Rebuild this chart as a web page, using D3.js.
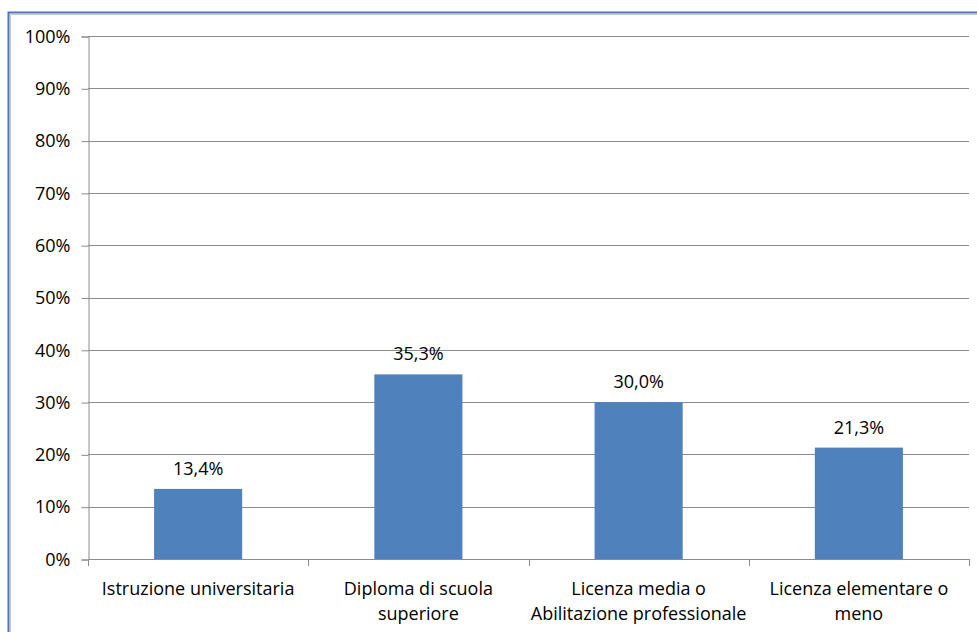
<!DOCTYPE html>
<html>
<head>
<meta charset="utf-8">
<script src="https://cdn.jsdelivr.net/npm/d3@7"></script>
<style>
  html, body { margin: 0; padding: 0; background: #fff; }
  svg text { font-family: "Open Sans", "Liberation Sans", sans-serif; fill: #000; }
</style>
</head>
<body>
<svg id="chart" width="977" height="632"></svg>
<script>
// Titolo di studio: quota percentuale per livello
const categories = [
  "Istruzione universitaria",
  "Diploma di scuola superiore",
  "Licenza media o Abilitazione professionale",
  "Licenza elementare o meno"
];
const categoryLines = [
  ["Istruzione universitaria"],
  ["Diploma di scuola", "superiore"],
  ["Licenza media o", "Abilitazione professionale"],
  ["Licenza elementare o", "meno"]
];
const values = [13.4, 35.3, 30.0, 21.3];
const yTicks = [0, 10, 20, 30, 40, 50, 60, 70, 80, 90, 100];

const svg = d3.select("#chart");
const W = 977, H = 632;
const margin = { left: 88, right: 8, top: 36, bottom: 73 };
const FS = 18;

// outer chart frame
svg.append("rect")
  .attr("x", 8.5).attr("y", 12.5)
  .attr("width", W + 10).attr("height", H + 10)
  .attr("fill", "#fff")
  .attr("stroke", "#4f74b8").attr("stroke-width", 2);
svg.append("path")
  .attr("d", `M10.5,${H + 10} V14.5 H${W + 10}`)
  .attr("fill", "none").attr("stroke", "#c8c8c8").attr("stroke-width", 1);

const x = d3.scaleBand()
  .domain(categories)
  .range([margin.left, W - margin.right])
  .paddingInner(0.6).paddingOuter(0.3);

const y = d3.scaleLinear()
  .domain([0, 100])
  .range([H - margin.bottom, margin.top]);

// gridlines
svg.append("g")
  .selectAll("line")
  .data(yTicks.filter(d => d > 0))
  .join("line")
  .attr("x1", margin.left).attr("x2", W - margin.right)
  .attr("y1", d => Math.round(y(d)) + 0.5).attr("y2", d => Math.round(y(d)) + 0.5)
  .attr("stroke", "#8c8c8c").attr("stroke-width", 1);

// y axis
const yAxis = svg.append("g")
  .attr("transform", `translate(${margin.left + 0.5},0.5)`)
  .call(d3.axisLeft(y).tickValues(yTicks).tickFormat(d => d + "%").tickSize(7).tickPadding(11));
yAxis.select(".domain").attr("stroke", "#8c8c8c");
yAxis.selectAll(".tick line").attr("stroke", "#8c8c8c");
yAxis.selectAll(".tick text").attr("font-size", FS).attr("font-family", null);

// bars
svg.append("g")
  .selectAll("rect")
  .data(values)
  .join("rect")
  .attr("x", (d, i) => x(categories[i]))
  .attr("width", x.bandwidth())
  .attr("y", d => y(d))
  .attr("height", d => y(0) - y(d))
  .attr("fill", "#4f81bd");

// value labels
svg.append("g")
  .selectAll("text")
  .data(values)
  .join("text")
  .attr("x", (d, i) => x(categories[i]) + x.bandwidth() / 2)
  .attr("y", d => y(d) - 14)
  .attr("text-anchor", "middle")
  .attr("font-size", FS)
  .text(d => d3.format(".1f")(d).replace(".", ",") + "%");

// x axis
const xAxis = svg.append("g");
xAxis.append("line")
  .attr("x1", margin.left).attr("x2", W - margin.right)
  .attr("y1", Math.round(y(0)) + 0.5).attr("y2", Math.round(y(0)) + 0.5)
  .attr("stroke", "#8c8c8c");
const edges = d3.range(categories.length + 1).map(i => margin.left + i * (W - margin.left - margin.right) / categories.length);
xAxis.selectAll("line.tick")
  .data(edges)
  .join("line")
  .attr("class", "tick")
  .attr("x1", d => Math.round(d) + 0.5).attr("x2", d => Math.round(d) + 0.5)
  .attr("y1", Math.round(y(0))).attr("y2", Math.round(y(0)) + 7)
  .attr("stroke", "#8c8c8c");

const labels = xAxis.selectAll("text.cat")
  .data(categoryLines)
  .join("text")
  .attr("class", "cat")
  .attr("text-anchor", "middle")
  .attr("font-size", FS)
  .attr("x", (d, i) => x(categories[i]) + x.bandwidth() / 2);
labels.selectAll("tspan")
  .data((d, i) => d.map(t => ({ t, i })))
  .join("tspan")
  .attr("x", d => x(categories[d.i]) + x.bandwidth() / 2)
  .attr("y", (d, j) => y(0) + 36 + j * 25)
  .text(d => d.t);
</script>
</body>
</html>
